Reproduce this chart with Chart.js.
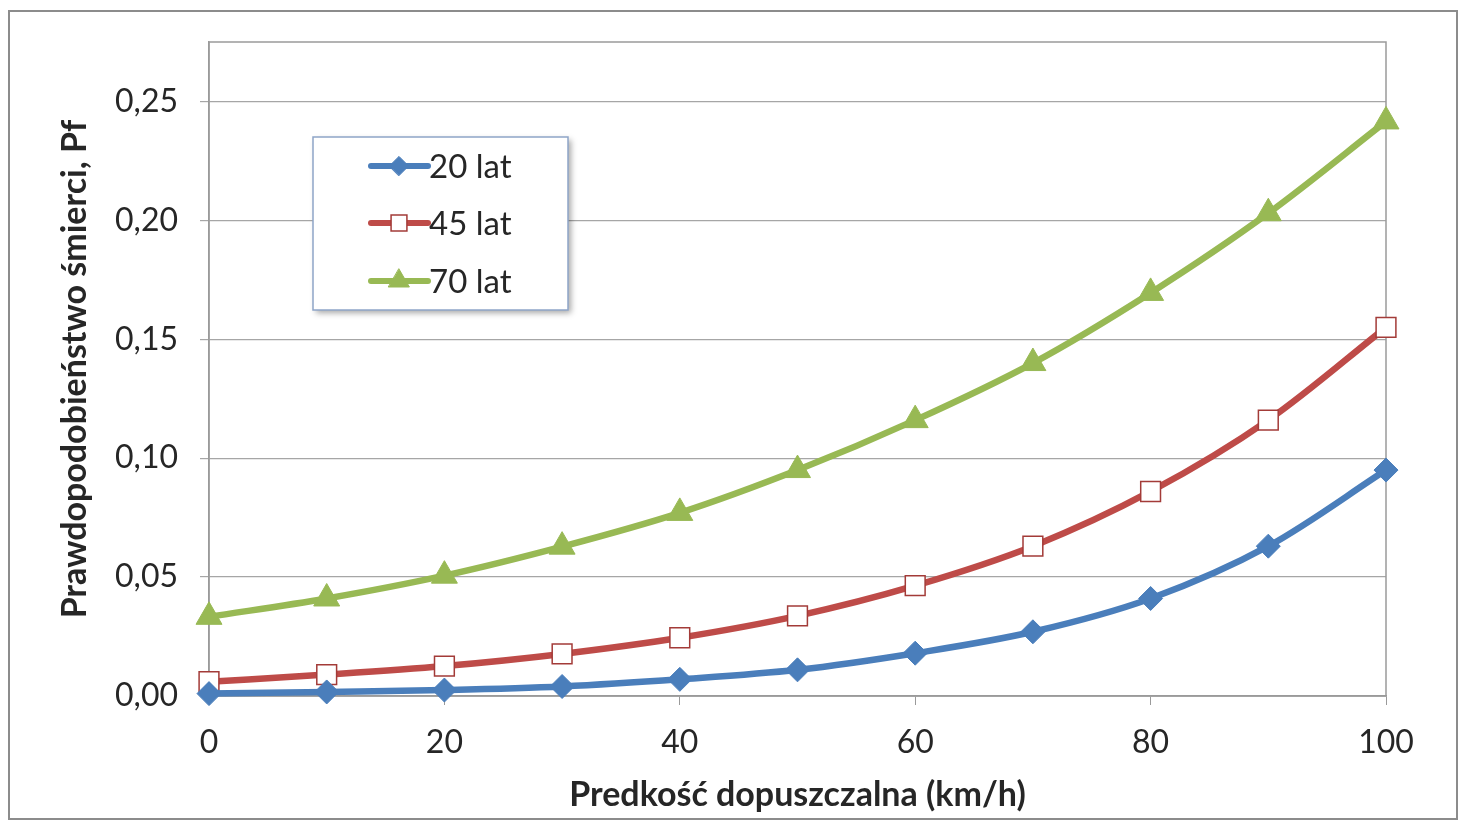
<!DOCTYPE html>
<html>
<head>
<meta charset="utf-8">
<script src="https://cdn.jsdelivr.net/npm/chart.js@4.4.1/dist/chart.umd.min.js"></script>
<style>
  html, body { margin: 0; padding: 0; background: #fff; }
  #frame { position: absolute; left: 8px; top: 10px; width: 1446px; height: 806px; border: 2px solid #8c8c8c; }
  canvas { display: block; }
</style>
</head>
<body>
<div id="frame"><canvas id="myChart" width="1446" height="806"></canvas></div>
<script>
const speeds = [0, 10, 20, 30, 40, 50, 60, 70, 80, 90, 100];
const age20 = [0.001, 0.0017, 0.0025, 0.004, 0.007, 0.011, 0.018, 0.027, 0.041, 0.063, 0.095];
const age45 = [0.006, 0.009, 0.0126, 0.0177, 0.0245, 0.0337, 0.0464, 0.063, 0.086, 0.116, 0.155];
const age70 = [0.0333, 0.041, 0.0506, 0.0628, 0.077, 0.095, 0.116, 0.140, 0.1695, 0.203, 0.2416];
const seriesNames = ['20 lat', '45 lat', '70 lat'];
const yTicks = [0, 0.05, 0.10, 0.15, 0.20, 0.25];

const FONT = 'Lato, "Open Sans", sans-serif';

function pts(vals) {
  return vals.map((v, i) => ({ x: speeds[i], y: v }));
}

const data = {
  datasets: [
    {
      label: seriesNames[0],
      data: pts(age20),
      borderColor: '#4a7ebb',
      backgroundColor: '#4a7ebb',
      pointStyle: 'rectRot',
      pointRadius: 12,
      pointBorderWidth: 1,
      pointBorderColor: '#4a7ebb',
      pointBackgroundColor: '#4a7ebb',
    },
    {
      label: seriesNames[1],
      data: pts(age45),
      borderColor: '#be4b48',
      backgroundColor: '#ffffff',
      pointStyle: 'rect',
      pointRadius: 14,
      pointBorderWidth: 1.5,
      pointBorderColor: '#a33b38',
      pointBackgroundColor: '#ffffff',
    },
    {
      label: seriesNames[2],
      data: pts(age70),
      borderColor: '#98b954',
      backgroundColor: '#98b954',
      pointStyle: 'triangle',
      pointRadius: 15,
      pointBorderWidth: 1,
      pointBorderColor: '#98b954',
      pointBackgroundColor: '#98b954',
    },
  ],
};

// plot area border + legend box
const plotBorder = {
  id: 'plotBorder',
  beforeDatasetsDraw(chart) {
    const { ctx, chartArea: a } = chart;
    ctx.save();
    ctx.strokeStyle = '#9a9a9a';
    ctx.lineWidth = 1.5;
    ctx.strokeRect(a.left, a.top, a.right - a.left, a.bottom - a.top);
    ctx.restore();
  },
};

const boxLegend = {
  id: 'boxLegend',
  afterDraw(chart) {
    const ctx = chart.ctx;
    const x = 303, y = 125, w = 255, h = 173;
    ctx.save();
    ctx.shadowColor = 'rgba(0,0,0,0.35)';
    ctx.shadowBlur = 6;
    ctx.shadowOffsetX = 3;
    ctx.shadowOffsetY = 3;
    ctx.fillStyle = '#fff';
    ctx.fillRect(x, y, w, h);
    ctx.restore();
    ctx.save();
    ctx.strokeStyle = '#8ea5c8';
    ctx.lineWidth = 1.5;
    ctx.strokeRect(x, y, w, h);
    const rows = [29, 86, 144];
    chart.data.datasets.forEach((ds, i) => {
      const ry = y + rows[i];
      ctx.strokeStyle = ds.borderColor;
      ctx.lineWidth = 6;
      ctx.lineCap = 'round';
      ctx.beginPath();
      ctx.moveTo(x + 58, ry);
      ctx.lineTo(x + 115, ry);
      ctx.stroke();
      ctx.fillStyle = ds.pointBackgroundColor;
      ctx.strokeStyle = ds.pointBorderColor;
      ctx.lineWidth = ds.pointBorderWidth;
      Chart.helpers.drawPoint(ctx, { pointStyle: ds.pointStyle, radius: ds.pointRadius * 0.8, borderWidth: ds.pointBorderWidth, rotation: 0 }, x + 86, ry);
      ctx.fillStyle = '#262626';
      ctx.font = '33px ' + FONT;
      ctx.textBaseline = 'middle';
      ctx.textAlign = 'left';
      ctx.fillText(ds.label, x + 116, ry + 1);
    });
    ctx.restore();
  },
};

const config = {
  type: 'line',
  data: data,
  options: {
    responsive: false,
    animation: false,
    clip: false,
    layout: { padding: { top: 30, right: 70, left: 0, bottom: 0 } },
    elements: {
      line: { borderWidth: 6.5, tension: 0.4, cubicInterpolationMode: 'monotone' },
    },
    plugins: {
      legend: { display: false },
      tooltip: { enabled: false },
    },
    scales: {
      x: {
        type: 'linear',
        min: 0,
        max: 100,
        afterFit(scale) { scale.height = 122; },
        ticks: { stepSize: 20, padding: 18, color: '#262626', font: { family: FONT, size: 32 } },
        grid: { drawOnChartArea: false, drawTicks: true, tickLength: 9, color: '#9a9a9a' },
        border: { color: '#9a9a9a', width: 1.5 },
        title: {
          display: true,
          text: 'Predkość dopuszczalna (km/h)',
          color: '#262626',
          font: { family: FONT, size: 34, weight: 'bold' },
          padding: { top: 0, bottom: 3 },
        },
      },
      y: {
        min: 0,
        max: 0.275,
        afterFit(scale) {
          scale.width = 199;
          scale.paddingTop = 0;
          scale.paddingBottom = 0;
        },
        afterBuildTicks(scale) { scale.ticks = yTicks.map(v => ({ value: v })); },
        ticks: {
          padding: 22,
          color: '#262626',
          font: { family: FONT, size: 32 },
          callback: (v) => v.toFixed(2).replace('.', ','),
        },
        grid: { color: '#a6a6a6', lineWidth: 1.2, tickLength: 9 },
        border: { color: '#9a9a9a', width: 1.5 },
        title: {
          display: true,
          text: 'Prawdopodobieństwo śmierci, Pf',
          color: '#262626',
          font: { family: FONT, size: 34, weight: 'bold' },
          padding: { top: 45, bottom: 0 },
        },
      },
    },
  },
  plugins: [plotBorder, boxLegend],
};

const myChart = new Chart(document.getElementById('myChart'), config);
</script>
</body>
</html>
